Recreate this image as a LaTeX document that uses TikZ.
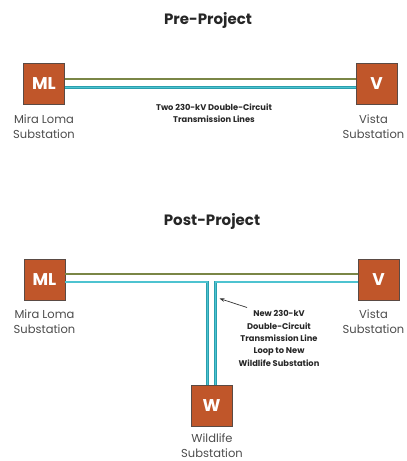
\documentclass[tikz,border=0pt]{standalone}
\usepackage{fontspec}
\setmainfont{Poppins}
\usetikzlibrary{arrows.meta}
\definecolor{sub}{HTML}{C0562A}
\definecolor{subedge}{HTML}{5A4A44}
\definecolor{olive}{HTML}{7A8646}
\definecolor{olivedk}{HTML}{5E6A30}
\definecolor{teal}{HTML}{4EC3D0}
\definecolor{tealdk}{HTML}{2A9FAE}
\tikzset{
  subbox/.style={draw=subedge, line width=0.8pt, fill=sub, minimum width=41pt, minimum height=41pt, inner sep=0pt, text=white, font=\fontsize{17}{17}\selectfont\bfseries},
  lbl/.style={align=center, font=\fontsize{11.5}{15}\selectfont, text=black!70},
  ttl/.style={font=\fontsize{15}{18}\selectfont\bfseries, text=black!85},
  note/.style={align=center, font=\fontsize{8.3}{12.3}\selectfont\bfseries, text=black!85},
  oline/.style={draw=olivedk, line width=0.8pt, double=olive, double distance=1.3pt},
  tline/.style={draw=tealdk, line width=0.8pt, double=teal, double distance=1.3pt},
}
\begin{document}
\begin{tikzpicture}[x=1pt,y=-1pt]
\path[use as bounding box, clip] (0,0) rectangle (407,461);
% Pre-Project
\node[ttl] (t1) at (208,20) {Pre-Project};
\node[subbox] (ml1) at (44,83.5) {ML};
\node[subbox] (v1) at (376.5,83.5) {V};
\draw[oline] ([yshift=4.5pt]ml1.east) -- ([yshift=4.5pt]v1.west);
\draw[tline] ([yshift=-4pt]ml1.east) -- ([yshift=-4pt]v1.west);
\node[lbl] (ml1l) at (44,127) {Mira Loma\\Substation};
\node[lbl] (v1l) at (373.5,127) {Vista\\Substation};
\node[note] (n1) at (214,113) {Two 230-kV Double-Circuit\\Transmission Lines};
% Post-Project
\node[ttl] (t2) at (212,221) {Post-Project};
\node[subbox] (ml2) at (44.5,279.5) {ML};
\node[subbox] (v2) at (378.5,279.5) {V};
\node[subbox] (w) at (211.5,406) {W};
\draw[oline] ([yshift=5.5pt]ml2.east) -- ([yshift=5.5pt]v2.west);
\draw[tline] ([yshift=-2.5pt]ml2.east) -| ([xshift=-3.8pt]w.north);
\draw[tline] ([yshift=-2.5pt]v2.west) -| ([xshift=4.2pt]w.north);
\node[lbl] (ml2l) at (44.5,322) {Mira Loma\\Substation};
\node[lbl] (v2l) at (373.5,322) {Vista\\Substation};
\node[lbl] (wl) at (212,445.5) {Wildlife\\Substation};
\node[note] (n2) at (279,338.5) {New 230-kV\\Double-Circuit\\Transmission Line\\Loop to New\\Wildlife Substation};
\coordinate (tip) at (219.5,298.5);
\draw[-{Stealth[length=5pt,width=3.5pt]}, line width=0.7pt, black!80] (247,307.5) -- (tip);
\end{tikzpicture}
\end{document}
